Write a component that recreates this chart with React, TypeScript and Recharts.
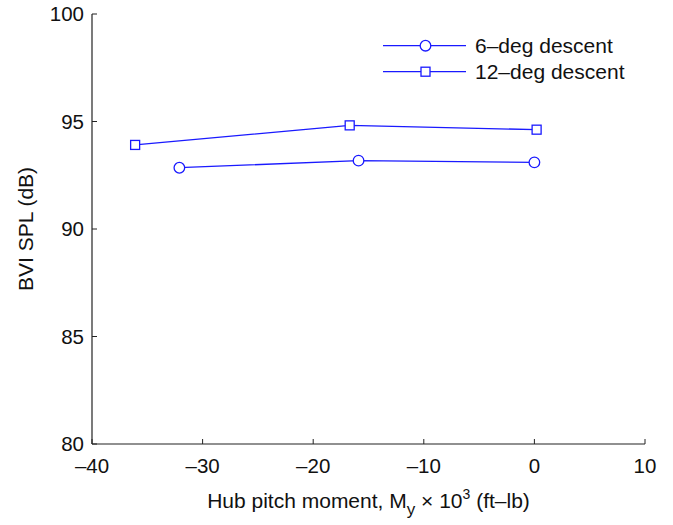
import React from 'react';
import { LineChart, Line, XAxis, YAxis } from 'recharts';

const moment6 = [-32.1, -15.9, 0.0];
const spl6 = [92.85, 93.18, 93.1];
const moment12 = [-36.1, -16.7, 0.2];
const spl12 = [93.91, 94.82, 94.62];
const seriesNames = ['6–deg descent', '12–deg descent'];
const xTicks = [-40, -30, -20, -10, 0, 10];
const yTicks = [80, 85, 90, 95, 100];

const BLUE = '#1a1aff';
const AXIS = '#222';
const FONT = '"Liberation Sans", Arial, Helvetica, sans-serif';

const data6 = moment6.map((x, i) => ({ x, y: spl6[i] }));
const data12 = moment12.map((x, i) => ({ x, y: spl12[i] }));

const fmt = (v: number) => (v < 0 ? '–' + Math.abs(v) : String(v));

const CircleDot = (props: any) => {
  const { cx, cy } = props;
  if (cx == null || cy == null) return null;
  return <circle cx={cx} cy={cy} r={5.3} fill="#fff" stroke={BLUE} strokeWidth={1.3} />;
};

const SquareDot = (props: any) => {
  const { cx, cy } = props;
  if (cx == null || cy == null) return null;
  return <rect x={cx - 4.5} y={cy - 4.5} width={9} height={9} fill="#fff" stroke={BLUE} strokeWidth={1.3} />;
};

const XLabel = (props: any) => {
  const { viewBox } = props;
  const cx = viewBox.x + viewBox.width / 2;
  const y = viewBox.y + 64;
  return (
    <text x={cx} y={y} textAnchor="middle" fontSize={21} fontFamily={FONT} fill="#111">
      Hub pitch moment, M<tspan dy={7} fontSize={17}>y</tspan>
      <tspan dy={-7}> × 10</tspan>
      <tspan dy={-9} fontSize={14}>3</tspan>
      <tspan dy={9}> (ft–lb)</tspan>
    </text>
  );
};

const YLabel = (props: any) => {
  const { viewBox } = props;
  const cy = viewBox.y + viewBox.height / 2;
  return (
    <text x={33} y={cy} transform={`rotate(-90, 33, ${cy})`} textAnchor="middle" fontSize={21} fontFamily={FONT} fill="#111">
      BVI SPL (dB)
    </text>
  );
};

const LegendItems = () => (
  <g>
    {seriesNames.map((name, i) => {
      const y = 45.7 + i * 26;
      return (
        <g key={name}>
          <line x1={383} x2={466} y1={y} y2={y} stroke={BLUE} strokeWidth={1.3} />
          {i === 0 ? <CircleDot cx={425.5} cy={y} /> : <SquareDot cx={425.5} cy={y} />}
          <text x={475} y={y + 7.5} fontSize={21} fontFamily={FONT} fill="#111">{name}</text>
        </g>
      );
    })}
  </g>
);

const tickStyle = { fontSize: 20.5, fontFamily: FONT, fill: '#111' };

export default function App() {
  return (
    <div style={{ position: 'absolute', left: 0, top: 0, background: '#fff' }}>
      <LineChart width={673} height={525} margin={{ top: 14, right: 28, left: 0, bottom: 0 }}>
        <XAxis
          xAxisId="b"
          type="number"
          dataKey="x"
          domain={[-40, 10]}
          ticks={xTicks}
          tickFormatter={fmt}
          height={81}
          tickSize={-5}
          tickMargin={19}
          tick={tickStyle}
          stroke={AXIS}
          axisLine={{ stroke: AXIS, strokeWidth: 1.2 }}
          label={{ content: XLabel }}
          allowDataOverflow
        />
        <XAxis
          xAxisId="t"
          orientation="top"
          type="number"
          dataKey="x"
          domain={[-40, 10]}
          ticks={xTicks}
          height={0}
          tickSize={-5}
          tick={false}
          stroke={AXIS}
          axisLine={{ stroke: AXIS, strokeWidth: 1.2 }}
        />
        <YAxis
          yAxisId="l"
          type="number"
          dataKey="y"
          domain={[80, 100]}
          ticks={yTicks}
          width={92}
          tickSize={-5}
          tickMargin={13}
          tick={tickStyle}
          stroke={AXIS}
          axisLine={{ stroke: AXIS, strokeWidth: 1.2 }}
          label={{ content: YLabel }}
        />
        <YAxis
          yAxisId="r"
          orientation="right"
          type="number"
          dataKey="y"
          domain={[80, 100]}
          ticks={yTicks}
          width={0}
          tickSize={-5}
          tick={false}
          stroke={AXIS}
          axisLine={{ stroke: AXIS, strokeWidth: 1.2 }}
        />
        <Line
          xAxisId="b"
          yAxisId="l"
          data={data6}
          dataKey="y"
          name={seriesNames[0]}
          stroke={BLUE}
          strokeWidth={1.3}
          dot={<CircleDot />}
          isAnimationActive={false}
        />
        <Line
          xAxisId="b"
          yAxisId="l"
          data={data12}
          dataKey="y"
          name={seriesNames[1]}
          stroke={BLUE}
          strokeWidth={1.3}
          dot={<SquareDot />}
          isAnimationActive={false}
        />
        <LegendItems />
      </LineChart>
    </div>
  );
}
